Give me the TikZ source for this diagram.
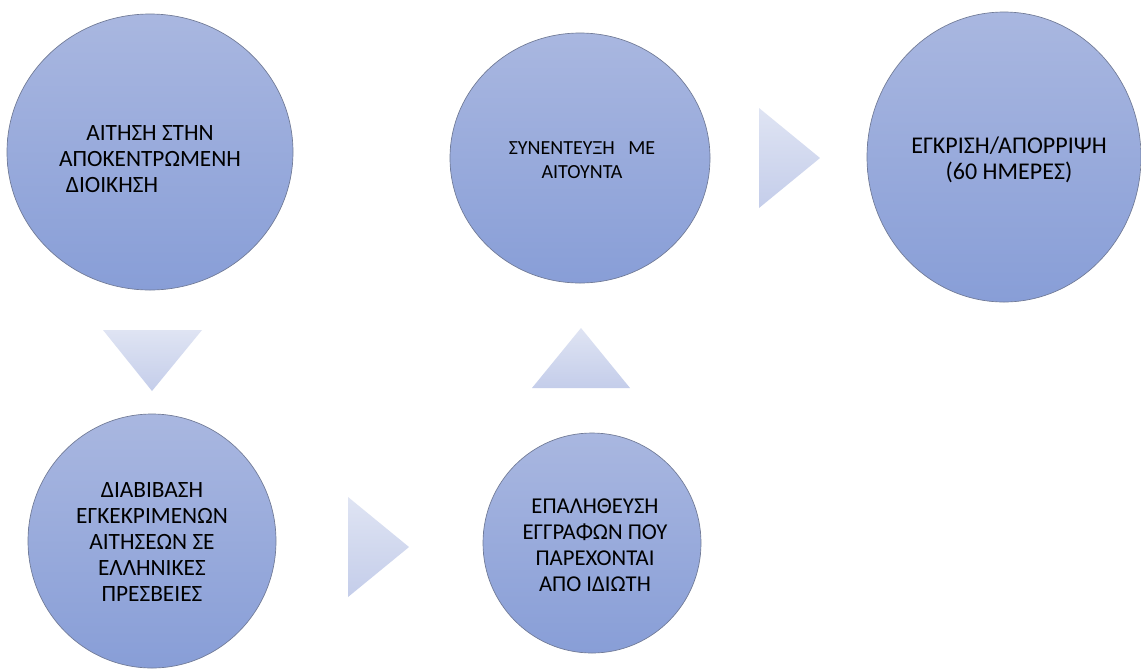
\documentclass[tikz,border=0pt]{standalone}
\usepackage{fontspec}
\setmainfont{Carlito}
\usetikzlibrary{positioning,shapes.geometric}
\definecolor{BubbleTop}{RGB}{169,183,224}
\definecolor{BubbleBot}{RGB}{136,158,215}
\definecolor{BubbleEdge}{RGB}{112,122,150}
\definecolor{PointTop}{RGB}{223,228,243}
\definecolor{PointBot}{RGB}{196,205,234}

\begin{document}
\begin{tikzpicture}[x=0.75pt,y=-0.75pt,
		bubble/.style={ellipse,draw=BubbleEdge,line width=0.5pt,top color=BubbleTop,bottom color=BubbleBot,inner sep=0pt},
		bubbletext/.style={align=center,text=black,inner sep=0pt},
		pointer/.style={top color=PointTop,bottom color=PointBot,draw=none}]
				\fill[white] (0,0) rectangle (1141,669);
				\useasboundingbox (0,0) rectangle (1141,669);
				\clip (0,0) rectangle (1141,669);
				
				% step shapes
				\node[bubble,minimum width=214.5pt,minimum height=207pt] (apply) at (150,152) {};
				\node[bubble,minimum width=195pt,minimum height=187.5pt] (meet) at (580,158) {};
				\node[bubble,minimum width=205.5pt,minimum height=217.5pt] (decide) at (1004,157) {};
				\node[bubble,minimum width=186pt,minimum height=190.5pt] (send) at (152,541) {};
				\node[bubble,minimum width=163.5pt,minimum height=165pt] (check) at (592,543) {};
				
				% texts
				\node[bubbletext,font=\fontsize{17.5}{19.5}\selectfont] (applytext) at ([shift={(0,7)}]apply.center)
				{ΑΙΤΗΣΗ ΣΤΗΝ\\ΑΠΟΚΕΝΤΡΩΜΕΝΗ\\ΔΙΟΙΚΗΣΗ\hspace*{57pt}};
				\node[bubbletext,font=\fontsize{15}{18}\selectfont] (meettext) at ([shift={(2,2)}]meet.center)
				{ΣΥΝΕΝΤΕΥΞΗ\ \ \ ΜΕ\\ΑΙΤΟΥΝΤΑ};
				\node[bubbletext,font=\fontsize{18}{19.5}\selectfont] (decidetext) at ([shift={(5,3)}]decide.center)
				{ΕΓΚΡΙΣΗ/ΑΠΟΡΡΙΨΗ\\(60 ΗΜΕΡΕΣ)};
				\node[bubbletext,font=\fontsize{17.5}{19.5}\selectfont] (sendtext) at ([shift={(0,1)}]send.center)
				{ΔΙΑΒΙΒΑΣΗ\\ΕΓΚΕΚΡΙΜΕΝΩΝ\\ΑΙΤΗΣΕΩΝ ΣΕ\\ΕΛΛΗΝΙΚΕΣ\\ΠΡΕΣΒΕΙΕΣ};
				\node[bubbletext,font=\fontsize{17}{19.5}\selectfont] (checktext) at ([shift={(3,2)}]check.center)
				{ΕΠΑΛΗΘΕΥΣΗ\\ΕΓΓΡΑΦΩΝ ΠΟΥ\\ΠΑΡΕΧΟΝΤΑΙ\\ΑΠΟ ΙΔΙΩΤΗ};
				
				% arrow heads between steps
				\foreach \ax/\ay/\bx/\by/\cx/\cy in {103/330/202/330/152/391,
					348/497/348/597/409/547,532/388/630/388/581/328,759/108/759/208/820/158}
				\shade[pointer] (\ax,\ay)--(\bx,\by)--(\cx,\cy)--cycle;
			\end{tikzpicture}
\end{document}
